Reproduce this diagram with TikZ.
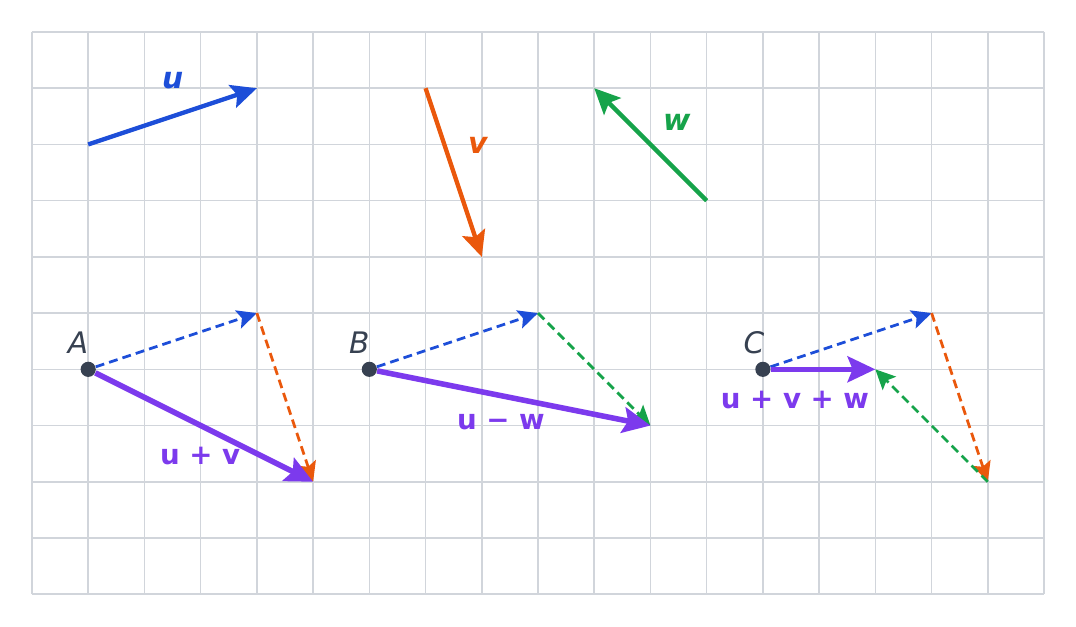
\documentclass[tikz,border=0pt]{standalone}
\usepackage{fontspec}
\setmainfont{DejaVu Sans}
\usetikzlibrary{arrows.meta}
\definecolor{vblue}{HTML}{1D4ED8}
\definecolor{vorange}{HTML}{EA580C}
\definecolor{vgreen}{HTML}{16A34A}
\definecolor{vpurple}{HTML}{7C3AED}
\definecolor{vdark}{HTML}{374151}
\definecolor{vgrid}{HTML}{D1D5DB}
\tikzset{>={Stealth[length=13pt,width=12pt,inset=2.5pt]}}
\tikzset{gridline/.style={vgrid,line width=0.8pt}}
\tikzset{vec/.style={->,line width=2.2pt}}
\tikzset{sumvec/.style={->,line width=2.8pt,vpurple,>={Stealth[length=14pt,width=13pt,inset=2.5pt]}}}
\tikzset{part/.style={->,line width=1.4pt,dash pattern=on 4.5pt off 2.6pt,>={Stealth[length=10pt,width=9.5pt,inset=2pt]}}}
\tikzset{dot/.style={circle,fill=vdark,inner sep=0pt,minimum size=0.27cm}}
\tikzset{ed/.style={inner sep=0pt,font=\fontsize{14}{17}\selectfont\bfseries}}
\tikzset{pt/.style={inner sep=0pt,text=vdark,font=\fontsize{15}{18}\selectfont\itshape}}

\begin{document}
\begin{tikzpicture}
\useasboundingbox (-0.569,-0.569) rectangle (18.569,10.569);
\draw[gridline] (0,0) grid (18,10);

% the three vectors
\coordinate (u0) at (1,8);
\coordinate (u1) at (4,9);
\coordinate (v0) at (7,9);
\coordinate (v1) at (8,6);
\coordinate (w0) at (12,7);
\coordinate (w1) at (10,9);

\draw[vec,vblue] (u0) -- (u1);
\draw[vec,vorange] (v0) -- (v1);
\draw[vec,vgreen] (w0) -- (w1);

\node[ed,text=vblue,font=\fontsize{15}{18}\selectfont\bfseries\itshape] at (2.5,9.14) (lu) {u};
\node[ed,text=vorange,font=\fontsize{15}{18}\selectfont\bfseries\itshape] at (7.93,7.99) (lv) {v};
\node[ed,text=vgreen,font=\fontsize{15}{18}\selectfont\bfseries\itshape] at (11.47,8.4) (lw) {w};

% u + v
\node[dot] (A) at (1,4) {};
\node[pt] at (0.82,4.48) (lA) {A};
\coordinate (A1) at (4,5);
\coordinate (A2) at (5,2);
\draw[part,vblue] (A) -- (A1);
\draw[part,vorange] (A1) -- (A2);
\draw[sumvec] (A) -- (A2);
\node[ed,text=vpurple] at (2.99,2.45) (lA2) {u + v};

% u - w
\node[dot] (B) at (6,4) {};
\node[pt] at (5.82,4.48) (lB) {B};
\coordinate (B1) at (9,5);
\coordinate (B2) at (11,3);
\draw[part,vblue] (B) -- (B1);
\draw[part,vgreen] (B1) -- (B2);
\draw[sumvec] (B) -- (B2);
\node[ed,text=vpurple] at (8.34,3.06) (lB2) {u − w};

% u + v + w
\node[dot] (C) at (13,4) {};
\node[pt] at (12.84,4.48) (lC) {C};
\coordinate (C1) at (16,5);
\coordinate (C2) at (17,2);
\coordinate (C3) at (15,4);
\draw[part,vblue] (C) -- (C1);
\draw[part,vorange] (C1) -- (C2);
\draw[part,vgreen] (C2) -- (C3);
\draw[sumvec] (C) -- (C3);
\node[ed,text=vpurple] at (13.57,3.45) (lC3) {u + v + w};

\end{tikzpicture}
\end{document}
